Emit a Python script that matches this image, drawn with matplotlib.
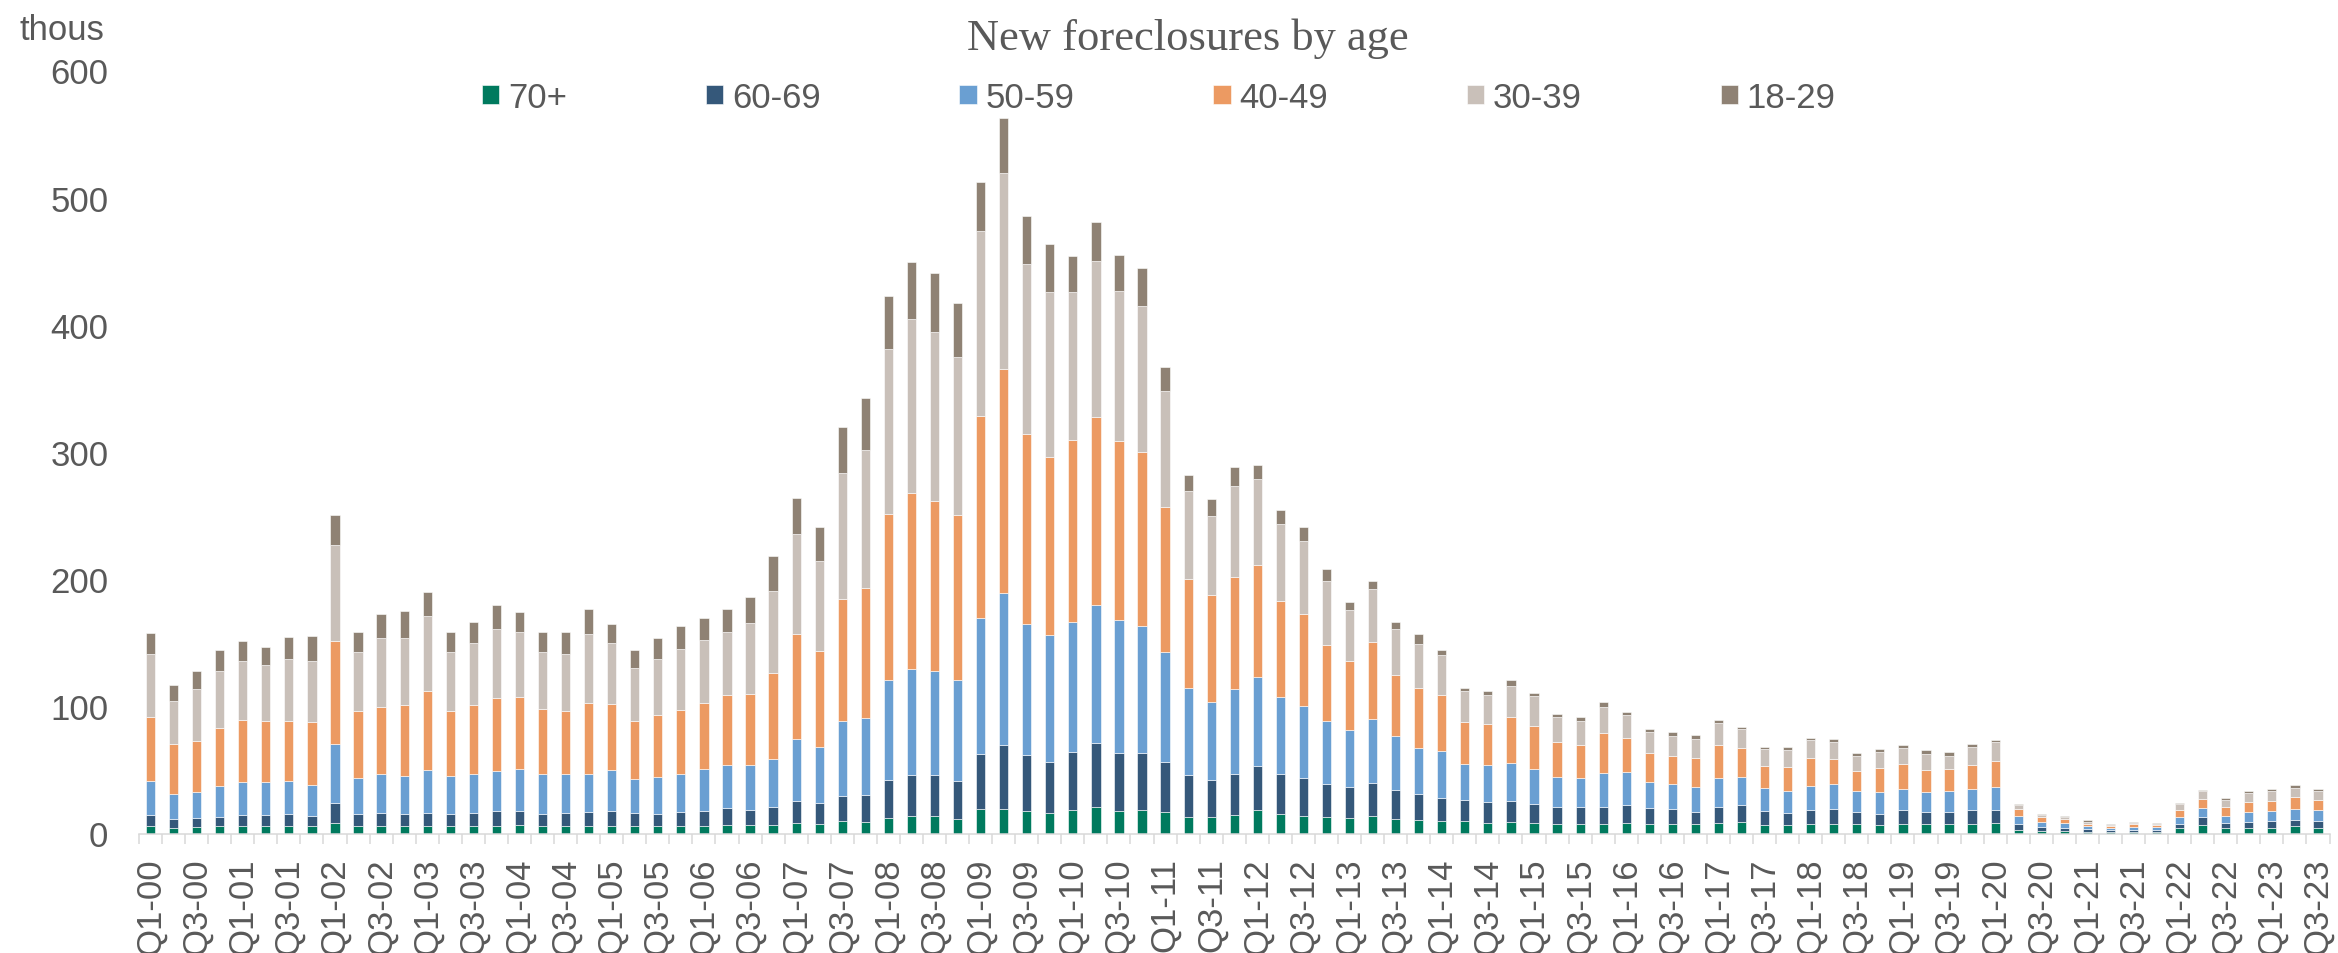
import numpy as np
import matplotlib
matplotlib.use("Agg")
import matplotlib.pyplot as plt
from matplotlib.ticker import FixedLocator

plt.rcParams['font.family'] = ['Liberation Sans', 'DejaVu Sans']

# quarters Q1-00 .. Q3-23
quarters = [f"Q{q}-{y:02d}" for y in range(0, 24) for q in range(1, 5)][:95]

# new foreclosures by age group, thousands
age_70 = [6, 4.3, 5, 6, 6, 6, 6, 6, 8.6, 6, 6, 6, 6, 6, 6, 6, 7, 6, 6, 6,
          6, 6, 6, 6, 6, 7, 7, 7, 8.6, 7.7, 9.6, 9, 12, 13.4, 13.4, 11.5, 19.1, 19.1, 17.7, 16.3,
          18.2, 21.1, 17.7, 18.2, 17.2, 12.9, 12.9, 14.4, 18.2, 15.3, 13.9, 12.9, 12, 13.9, 11.5, 10.5, 10, 9.6, 8.6, 9.2,
          8.4, 7.8, 7.3, 7.3, 8.6, 7.6, 7.6, 7.6, 8.4, 9.2, 6.8, 6.3, 7.1, 7.8, 7.1, 6.3, 7.1, 7.3, 7.1, 7.8,
          8.1, 2.6, 2.1, 1.6, 1.3, 1, 1, 1.3, 4.2, 6.5, 4.2, 4.7, 4.7, 5.8, 4.2]
age_60 = [8.5, 7.2, 7, 7, 8.5, 8.5, 9, 7.5, 15, 9.5, 10, 9.5, 10.5, 9.5, 10.5, 11.5, 11, 9.5, 10, 11,
          12, 10, 9, 11, 12, 13, 11.5, 14, 17, 16.2, 19.6, 21, 30, 32.5, 32.5, 29.7, 43.1, 50.3, 44, 39.7,
          45.9, 50.2, 45.9, 45, 39.3, 33, 29.2, 32.5, 34.9, 31.6, 29.6, 25.9, 24.4, 25.8, 22.5, 20.6, 17.8, 16.7, 16.3, 16.4,
          14.6, 13.1, 13.6, 13.6, 13.9, 12.5, 11.8, 9.7, 12.5, 13.3, 11, 9.7, 11.5, 11.6, 10.2, 9.1, 11, 9.7, 9.9, 10.3,
          10.7, 4.5, 2.9, 3.1, 2.4, 1.9, 2.1, 1.8, 3.6, 6.1, 4.2, 4.7, 5.5, 5.2, 6]
age_50 = [27, 19.5, 20.5, 24, 26, 26, 26, 25, 46.5, 28, 30.5, 30, 33.5, 29.5, 30, 32, 33, 31.5, 30.5, 30,
          32, 27, 29.5, 29.5, 33, 33.5, 35, 37.5, 49, 44, 59.3, 60.8, 79, 83.8, 81.9, 79.4, 107.2, 119.6, 102.9, 100,
          102.4, 108.1, 104.4, 100, 86.1, 68.5, 61.7, 66.5, 69.9, 60.3, 57, 49.7, 44.9, 50.3, 42.6, 36.4, 37.3, 28.2, 28.7, 29.9,
          27.8, 23.6, 22.8, 27, 25.9, 20.5, 19.3, 19.3, 23.1, 22.2, 17.8, 17.5, 18.8, 19.6, 16.2, 17, 16.7, 16, 16.2, 17.2,
          18.1, 7, 4.4, 3.9, 2.1, 1.5, 2.4, 1.9, 4.8, 7.3, 5.7, 7.3, 7.3, 8.1, 7.9]
age_40 = [50, 39, 40.5, 46, 49, 48, 47.5, 49.5, 81, 53, 53, 55.5, 62, 51.5, 54.5, 57, 56.5, 51, 49.5, 55.5,
          52, 45.5, 48.5, 51, 52, 55.5, 56.5, 67.5, 82, 75.7, 95.7, 102, 130, 137.8, 134, 129.7, 159.3, 176.1, 149.8, 139.7,
          143.1, 147.9, 140.6, 136.8, 113.9, 86.1, 83.8, 88.5, 88, 75.6, 72.2, 59.4, 54.1, 60.7, 47.8, 46.9, 43.5, 33.5, 32.5, 35.8,
          33.7, 27.5, 25.9, 31.1, 26.7, 22.7, 22.3, 22.5, 25.6, 22.5, 17.5, 18.8, 22, 19.6, 15.7, 19.1, 19.9, 17.2, 17.3, 18.9,
          20.1, 5.5, 3.4, 2.9, 1.8, 1.4, 1.8, 1.8, 6.2, 7, 7.1, 8.4, 8.4, 9.9, 8.3]
age_30 = [50, 34, 41, 45, 46.5, 44, 49, 48, 76, 46.5, 54.5, 53, 59, 46, 49, 54, 51, 45, 45.5, 54,
          48, 42, 44, 47.5, 49.5, 49.5, 55.5, 65, 79, 70.3, 99.6, 109, 130, 136.8, 132.6, 124.4, 145, 154.1, 133.5, 130.2,
          116.3, 123, 118.2, 114.9, 91.4, 68.9, 62.2, 71.3, 68, 60.3, 57, 50.7, 40.2, 41.7, 36.4, 34.9, 31.6, 24, 22.7, 24.9,
          23.3, 19.3, 18.6, 20.4, 18, 16.2, 16, 15.5, 17.3, 14.7, 13.1, 13.1, 13.9, 13.1, 11.8, 12.3, 12.5, 12.6, 10.7, 13.8,
          14.7, 3.2, 1.9, 1.6, 1.8, 1, 1.3, 1, 4.5, 6.3, 5.5, 7.1, 7.6, 7.1, 7.4]
age_18 = [16, 12.5, 14, 16.5, 15.5, 14, 17, 19.5, 23, 15.5, 18.7, 20.7, 19, 16, 16, 19, 16, 15.5, 17, 20,
          15, 13.5, 16.5, 18.5, 17, 18, 20.5, 27, 28, 27.3, 36.2, 41, 41.7, 45.5, 46, 42.6, 38.3, 43.5, 37.8, 37.3,
          28.2, 30.6, 28.2, 30.1, 18.6, 12.9, 12.9, 14.8, 10.5, 11.5, 11, 9.5, 6.7, 6.2, 5.7, 7.2, 3.8, 2.8, 2.9, 4.2,
          2.9, 2.9, 3.1, 3.7, 2.7, 2.4, 2.5, 2.8, 2.6, 1.6, 2.1, 2.4, 2.1, 2.6, 2.3, 2.9, 2.7, 2.6, 2.6, 2.4,
          2.1, 0.7, 0.7, 0.8, 1.3, 0.5, 0.6, 0.6, 0.8, 1.1, 1.0, 1.3, 1.6, 1.8, 1.5]

series = [age_70, age_60, age_50, age_40, age_30, age_18]
labels = ['70+', '60-69', '50-59', '40-49', '30-39', '18-29']
colors = ['#007A5E', '#35587A', '#6A9FD2', '#EC9A62', '#C9C0B9', '#8F8274']

grey = '#595959'
W, H = 2338, 954
fig = plt.figure(figsize=(W / 100, H / 100), dpi=100)
ax = fig.add_axes([139 / W, 119.5 / H, 2190.5 / W, 763 / H])

x = np.arange(len(quarters))
bottom = np.zeros(len(quarters))
for vals, lab, col in zip(series, labels, colors):
    vals = np.array(vals)
    ax.bar(x, vals, 0.4, bottom=bottom, color=col, label=lab,
           edgecolor='white', linewidth=0.4)
    bottom += vals

ax.set_xlim(-0.5, len(quarters) - 0.5)
ax.set_ylim(0, 600)
ax.set_yticks(range(0, 601, 100))
ax.tick_params(axis='y', length=0, pad=22, labelsize=25, labelcolor=grey)

ax.set_xticks(x[::2])
ax.set_xticklabels(quarters[::2], rotation=90)
ax.xaxis.set_minor_locator(FixedLocator(np.arange(-0.5, len(quarters), 1)))
ax.tick_params(axis='x', which='major', length=0, pad=17, labelsize=25, labelcolor=grey)
ax.tick_params(axis='x', which='minor', length=7, width=1.1, color='#d9d9d9')

for s in ['top', 'right', 'left']:
    ax.spines[s].set_visible(False)
ax.spines['bottom'].set_color('#d9d9d9')
ax.spines['bottom'].set_linewidth(1.1)

fig.text(19 / W, 1 - 39.5 / H, 'thous', fontsize=25, color=grey, va='baseline', ha='left')
fig.text(1188 / W, 1 - 50 / H, 'New foreclosures by age', fontsize=32, color=grey,
         va='baseline', ha='center', family=['Liberation Serif', 'DejaVu Serif'])

fig.legend(loc='center', bbox_to_anchor=(0.4956, 0.897), ncol=6, frameon=False,
           fontsize=25, labelcolor=grey, handlelength=0.5, handleheight=0.5,
           handletextpad=0.25, columnspacing=4.0)

fig.savefig('out.png', dpi=100)
